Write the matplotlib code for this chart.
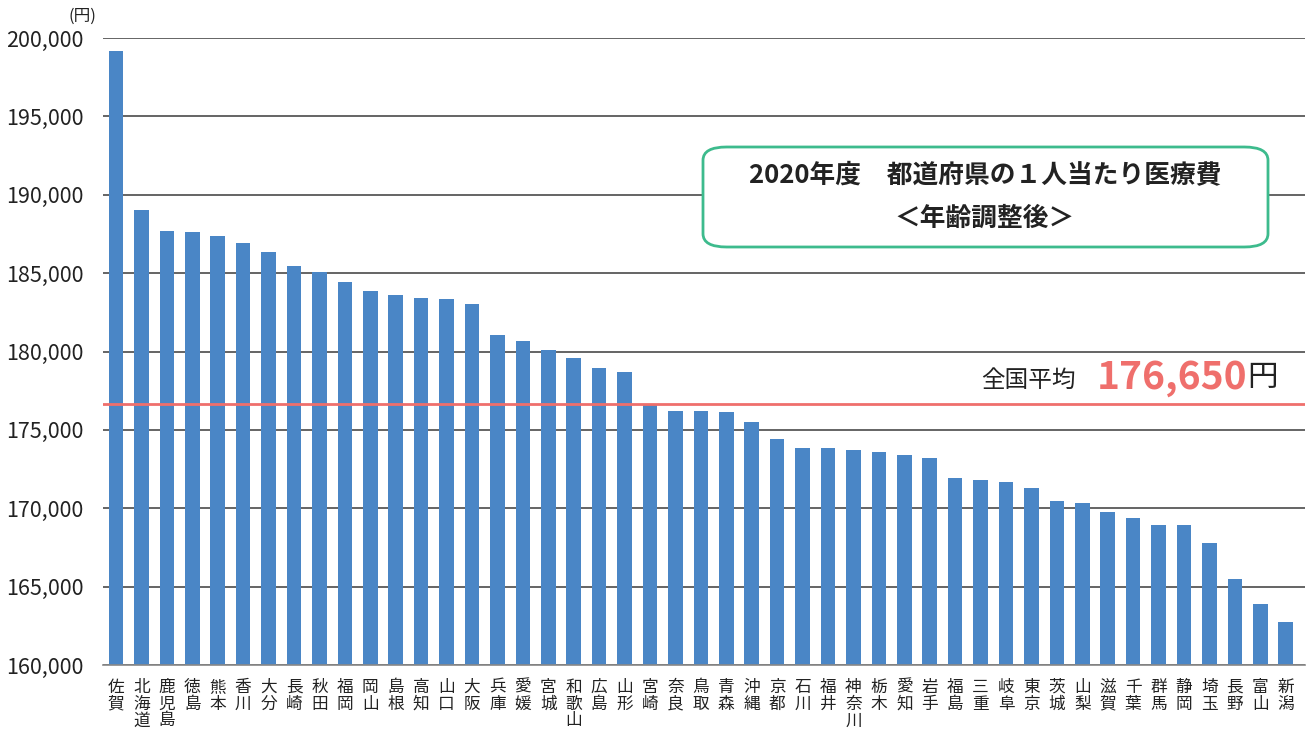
import matplotlib.pyplot as plt
from matplotlib.patches import FancyBboxPatch
from matplotlib.ticker import FuncFormatter

plt.rcParams['font.family'] = ['Noto Sans CJK JP', 'DejaVu Sans']

# 都道府県別 1人当たり医療費（年齢調整後, 2020年度）
prefs = ["佐賀", "北海道", "鹿児島", "徳島", "熊本", "香川", "大分", "長崎", "秋田", "福岡",
         "岡山", "島根", "高知", "山口", "大阪", "兵庫", "愛媛", "宮城", "和歌山", "広島",
         "山形", "宮崎", "奈良", "鳥取", "青森", "沖縄", "京都", "石川", "福井", "神奈川",
         "栃木", "愛知", "岩手", "福島", "三重", "岐阜", "東京", "茨城", "山梨", "滋賀",
         "千葉", "群馬", "静岡", "埼玉", "長野", "富山", "新潟"]
cost = [199170, 189040, 187700, 187640, 187380, 186940, 186360, 185470, 185090, 184450,
        183870, 183620, 183430, 183360, 183040, 181070, 180680, 180110, 179600, 178960,
        178700, 176600, 176210, 176200, 176140, 175500, 174420, 173850, 173840, 173720,
        173590, 173400, 173210, 171930, 171800, 171680, 171290, 170460, 170340, 169760,
        169380, 168940, 168930, 167790, 165490, 163890, 162750]
national_avg = 176650

bar_color = "#4a86c6"
avg_color = "#ef6f6c"

fig = plt.figure(figsize=(13.14, 7.35), dpi=100)
ax = fig.add_axes([0.0784, 0.0952, 0.9148, 0.853])

x = range(len(prefs))
ax.bar(x, cost, width=0.57, color=bar_color, zorder=2)
ax.axhline(national_avg, color=avg_color, lw=2, zorder=3)

ax.set_ylim(160000, 200000)
ax.set_xlim(-0.51, 46.76)
ax.set_yticks(range(160000, 200001, 5000))
ax.yaxis.set_major_formatter(FuncFormatter(lambda v, p: f"{int(v):,}"))
ax.grid(axis="y", color="#3a3a3a", lw=1.1, zorder=1)
ax.tick_params(axis="y", length=0, labelsize=15.5, pad=14, labelcolor="#222222")
ax.set_xticks(list(x))
ax.set_xticklabels(["\n".join(p) for p in prefs], fontsize=12, linespacing=0.98,
                   va="top", color="#222222")
ax.tick_params(axis="x", length=0, pad=10)
for s in ["left", "right", "top"]:
    ax.spines[s].set_visible(False)
ax.spines["bottom"].set_color("#888888")
ax.spines["bottom"].set_linewidth(1.2)

fig.text(0.0525, 0.978, "(円)", fontsize=12, ha="left", va="center", color="#222222")

# タイトルボックス
box = FancyBboxPatch((703 / 1314, 1 - 247 / 735), 565 / 1314, 100 / 735,
                     boxstyle="round,pad=0,rounding_size=0.018",
                     transform=fig.transFigure, facecolor="white",
                     edgecolor="#3dbb8d", lw=2, zorder=5)
fig.patches.append(box)
fig.text(985 / 1314, 1 - 176 / 735, "2020年度　都道府県の１人当たり医療費",
         fontsize=18.5, fontweight="bold", ha="center", va="center", color="#222222", zorder=6)
fig.text(985 / 1314, 1 - 218 / 735, "＜年齢調整後＞",
         fontsize=18.5, fontweight="bold", ha="center", va="center", color="#222222", zorder=6)

# 全国平均
ax.text(0.809, 0.4545, "全国平均", transform=ax.transAxes, fontsize=17,
        ha="right", va="center", color="#222222")
ax.text(0.827, 0.458, f"{national_avg:,}", transform=ax.transAxes, fontsize=28,
        fontweight="bold", ha="left", va="center", color=avg_color)
ax.text(0.9775, 0.458, "円", transform=ax.transAxes, fontsize=22,
        ha="right", va="center", color="#222222")

fig.savefig("out.png", dpi=100, facecolor="white")
